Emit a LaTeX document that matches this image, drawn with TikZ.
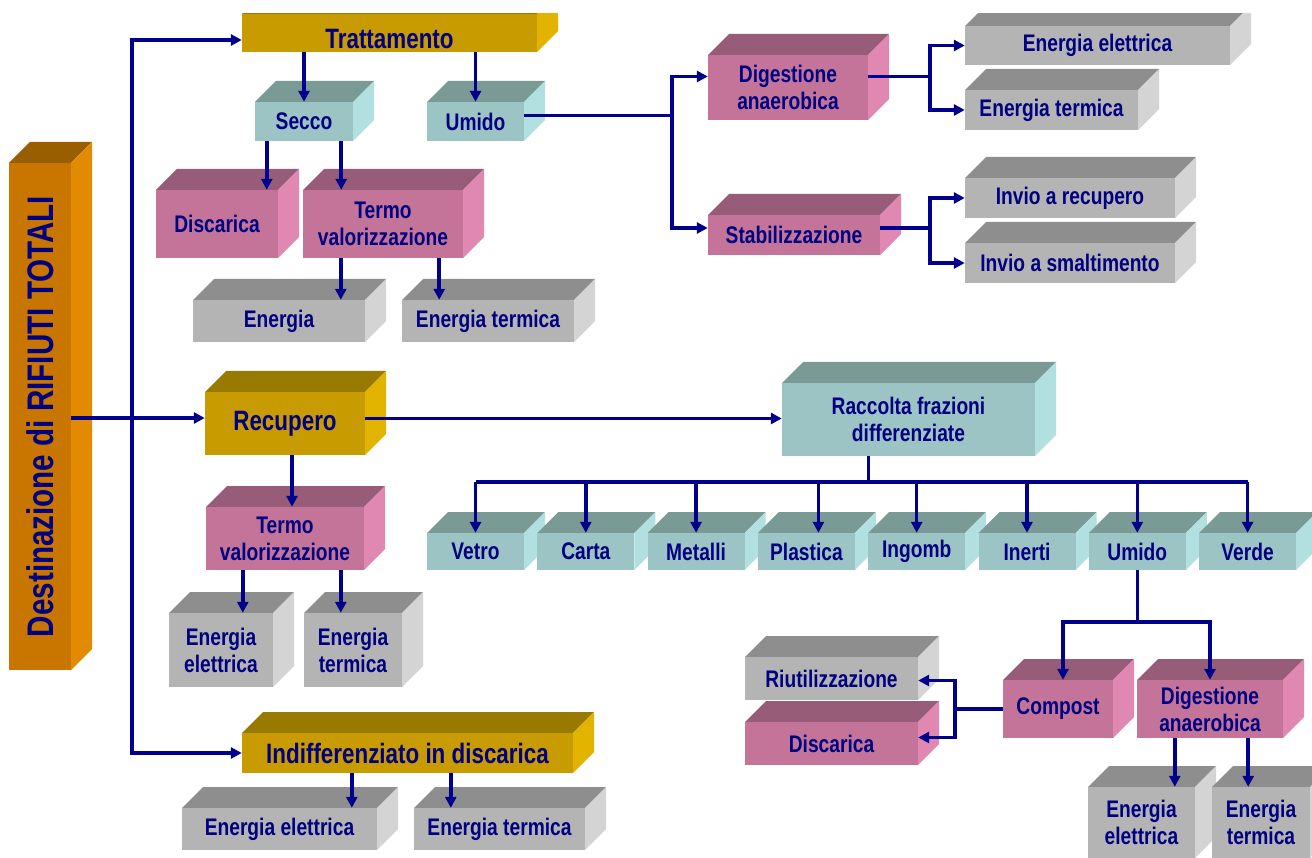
\documentclass[tikz,border=0pt]{standalone}
\usepackage{fontspec}
\setmainfont{Liberation Sans}[FakeStretch=0.8]
\usepackage{tikz}
\usetikzlibrary{arrows.meta}

\definecolor{navytxt}{RGB}{0,0,128}
\definecolor{navyline}{RGB}{0,0,140}
\definecolor{goldF}{RGB}{200,155,0}
\definecolor{goldT}{RGB}{153,122,0}
\definecolor{goldS}{RGB}{226,180,0}
\definecolor{orngF}{RGB}{200,118,0}
\definecolor{orngT}{RGB}{153,94,0}
\definecolor{orngS}{RGB}{226,138,0}
\definecolor{pinkF}{RGB}{196,116,153}
\definecolor{pinkT}{RGB}{150,92,120}
\definecolor{pinkS}{RGB}{224,136,178}
\definecolor{tealF}{RGB}{156,196,196}
\definecolor{tealT}{RGB}{122,154,150}
\definecolor{tealS}{RGB}{178,224,224}
\definecolor{greyF}{RGB}{180,180,180}
\definecolor{greyT}{RGB}{142,142,142}
\definecolor{greyS}{RGB}{212,212,212}

\newcommand{\boxfont}{\bfseries\fontsize{24}{27}\selectfont}
\newcommand{\goldfont}{\bfseries\fontsize{28}{30}\selectfont}
\newcommand{\destfont}{\bfseries\fontsize{37}{40}\selectfont}

% name, x1, y1, x2, y2, colour, text
\newcommand{\cube}[7]{%
  \fill[#6T] (#2,#3) -- ++(\dep,-\dep) -- ({#4+\dep},{#3-\dep}) -- (#4,#3) -- cycle;
  \fill[#6S] (#4,#3) -- ({#4+\dep},{#3-\dep}) -- ({#4+\dep},{#5-\dep}) -- (#4,#5) -- cycle;
  \node[face, fill=#6F, minimum width={#4-#2}, minimum height={#5-#3}] (#1) at ({(#2+#4)/2},{(#3+#5)/2}) {#7};
}

\tikzset{
  face/.style={rectangle, inner sep=0pt, text=navytxt, font=\boxfont, align=center},
  link/.style={draw=navyline, line width=3.5pt},
  linkarr/.style={link, ->},
}

\begin{document}
\begin{tikzpicture}[>={Triangle[length=11pt,width=11pt]}, x=1pt, y=-1pt]
        % --- 1. Parameters ---
        \def\dep{21}
        \path[use as bounding box, fill=white] (0,0) rectangle (1312,858);

        \begin{scope}
        \clip (0,14) rectangle (1312,858);

        % --- 2. Boxes ---
        \cube{dest}{9}{163}{71}{670}{orng}{}
        \node[face, rotate=90, font=\destfont] (destlbl) at (dest) {Destinazione di RIFIUTI TOTALI};

        % Trattamento
        \cube{tratt}{242}{14}{537}{52}{gold}{\goldfont\rule{0pt}{31pt}Trattamento}
        \cube{secco}{255}{102}{353}{141}{teal}{Secco}
        \cube{umidoA}{427}{102}{524}{141}{teal}{Umido}
        \cube{discA}{156}{190}{278}{258}{pink}{Discarica}
        \cube{termoA}{303}{190}{463}{258}{pink}{Termo\\valorizzazione}
        \cube{enA}{193}{300}{365}{342}{grey}{Energia}
        \cube{entA}{402}{300}{574}{342}{grey}{Energia termica}
        \cube{eeA}{965}{26}{1230}{65}{grey}{Energia elettrica}
        \cube{digA}{708}{55}{868}{120}{pink}{Digestione\\anaerobica}
        \cube{etA}{965}{90}{1138}{130}{grey}{Energia termica}
        \cube{irA}{965}{178}{1175}{218}{grey}{Invio a recupero}
        \cube{stabA}{708}{215}{880}{255}{pink}{Stabilizzazione}
        \cube{isA}{965}{243}{1175}{283}{grey}{Invio a smaltimento}

        % Recupero
        \cube{racc}{782}{383}{1035}{456}{teal}{Raccolta frazioni\\differenziate}
        \cube{rec}{205}{392}{365}{455}{gold}{\goldfont Recupero}
        \cube{termoB}{206}{507}{364}{570}{pink}{Termo\\valorizzazione}
        \cube{eeB}{169}{613}{273}{687}{grey}{Energia\\elettrica}
        \cube{etB}{304}{613}{402}{687}{grey}{Energia\\termica}
        \foreach \txt [count=\k] in {Vetro,Carta,Metalli,Plastica,Ingomb,Inerti,Umido,Verde}{
            \pgfmathsetmacro\xa{427+110.3*(\k-1)}
            \pgfmathsetmacro\xb{\xa+97}
            \cube{fr\k}{\xa}{533}{\xb}{570}{teal}{\txt}
        }
        \cube{riut}{745}{657}{918}{700}{grey}{Riutilizzazione}
        \cube{comp}{1003}{680}{1113}{738}{pink}{Compost}
        \cube{digB}{1137}{680}{1283}{738}{pink}{Digestione\\anaerobica}
        \cube{discB}{745}{722}{918}{765}{pink}{Discarica}
        \cube{eeC}{1088}{787}{1195}{858}{grey}{Energia\\elettrica}
        \cube{etC}{1212}{787}{1310}{858}{grey}{Energia\\termica}

        % Indifferenziato
        \cube{indiff}{242}{733}{573}{773}{gold}{\goldfont Indifferenziato in discarica}
        \cube{eeD}{182}{808}{377}{850}{grey}{Energia elettrica}
        \cube{etD}{414}{808}{585}{850}{grey}{Energia termica}

        % --- 3. Connectors ---
        \coordinate (split) at (132,418);
        \draw[linkarr] (dest.east |- split) -- (split -| rec.west);
        \draw[linkarr] (split) |- ([yshift=-7pt]tratt.west);
        \draw[linkarr] (split) |- (indiff.west);

        \draw[linkarr] (secco.north |- tratt.south) -- (secco.north);
        \draw[linkarr] (umidoA.north |- tratt.south) -- (umidoA.north);
        \draw[linkarr] ([xshift=12pt]secco.south west) -- ([xshift=12pt]secco.south west |- discA.north);
        \draw[linkarr] ([xshift=-12pt]secco.south east) -- ([xshift=-12pt]secco.south east |- termoA.north);
        \draw[linkarr] ([xshift=38pt]termoA.south west) -- ([xshift=38pt]termoA.south west |- enA.north);
        \draw[linkarr] ([xshift=-24pt]termoA.south east) -- ([xshift=-24pt]termoA.south east |- entA.north);

        \path ([yshift=6pt]umidoA.east) ++(148,0) coordinate (forkA);
        \draw[link] ([yshift=6pt]umidoA.east) -- (forkA);
        \draw[linkarr] (forkA) |- ([yshift=11pt]digA.west);
        \draw[linkarr] (forkA) |- ([yshift=7pt]stabA.west);

        \path ([yshift=11pt]digA.east) ++(62,0) coordinate (forkB);
        \draw[link] ([yshift=11pt]digA.east) -- (forkB);
        \draw[linkarr] (forkB) |- (eeA.west);
        \draw[linkarr] (forkB) |- (etA.west);

        \path ([yshift=7pt]stabA.east) ++(50,0) coordinate (forkC);
        \draw[link] ([yshift=7pt]stabA.east) -- (forkC);
        \draw[linkarr] (forkC) |- (irA.west);
        \draw[linkarr] (forkC) |- (isA.west);

        \draw[linkarr] ([yshift=5pt]rec.east) -- ([yshift=5pt]rec.east -| racc.west);
        \draw[linkarr] ([xshift=7pt]rec.south) -- ([xshift=7pt]rec.south |- termoB.north);
        \draw[linkarr] ([xshift=37pt]termoB.south west) -- ([xshift=37pt]termoB.south west |- eeB.north);
        \draw[linkarr] ([xshift=135pt]termoB.south west) -- ([xshift=135pt]termoB.south west |- etB.north);

        \path ([xshift=-40pt]racc.south) ++(0,26) coordinate (bus);
        \draw[link] ([xshift=-40pt]racc.south) -- (bus);
        \draw[link] (bus -| fr1.north) -- (bus -| fr8.north);
        \foreach \k/\s in {1/0,2/0,3/0,4/12,5/0,6/0,7/0,8/0}
            \draw[linkarr] ([xshift=\s pt]fr\k.north |- bus) -- ([xshift=\s pt]fr\k.north);

        \path (fr7.south) ++(0,52) coordinate (forkE);
        \draw[link] (fr7.south) -- (forkE);
        \draw[linkarr] (forkE) -| ([xshift=5pt]comp.north);
        \draw[linkarr] (forkE) -| (digB.north);

        \path (comp.west) ++(-48,0) coordinate (forkF);
        \draw[link] (comp.west) -- (forkF);
        \draw[linkarr] (forkF) |- ([yshift=-2pt]riut.east);
        \draw[linkarr] (forkF) |- ([yshift=6pt]discB.east);

        \draw[linkarr] ([xshift=38pt]digB.south west) -- ([xshift=38pt]digB.south west |- eeC.north);
        \draw[linkarr] ([xshift=-35pt]digB.south east) -- ([xshift=-35pt]digB.south east |- etC.north);

        \draw[linkarr] ([xshift=110pt]indiff.south west) -- ([xshift=110pt]indiff.south west |- eeD.north);
        \draw[linkarr] ([xshift=209pt]indiff.south west) -- ([xshift=209pt]indiff.south west |- etD.north);
        \end{scope}
    \end{tikzpicture}
\end{document}
